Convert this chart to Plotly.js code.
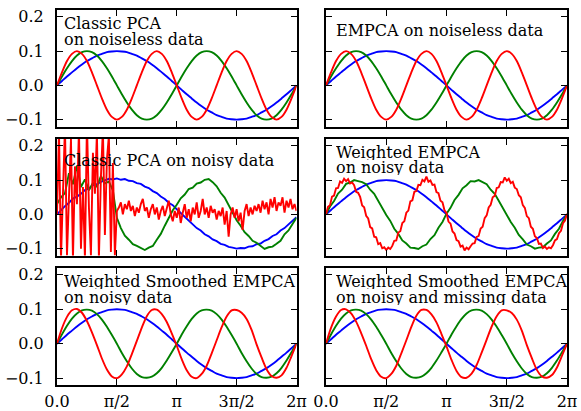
<!DOCTYPE html>
<html>
<head>
<meta charset="utf-8">
<script src="https://cdn.plot.ly/plotly-3.0.1.min.js"></script>
<style>html,body{margin:0;padding:0;background:#fff;}#chart{width:581px;height:411px;}</style>
</head>
<body>
<div id="chart"></div>
<script>
// ---------- data ----------
var X_MAX = 2 * Math.PI;
var xTickVals = [0, Math.PI / 2, Math.PI, 3 * Math.PI / 2, 2 * Math.PI];
var xTickText = ['0.0', 'π/2', 'π', '3π/2', '2π'];
var yTickVals = [-0.1, 0.0, 0.1, 0.2];
var yTickText = ['\u22120.1', '0.0', '0.1', '0.2'];

var panelTitles = [
  ['Classic PCA', 'on noiseless data'],
  ['EMPCA on noiseless data'],
  ['Classic PCA on noisy data'],
  ['Weighted EMPCA', 'on noisy data'],
  ['Weighted Smoothed EMPCA', 'on noisy data'],
  ['Weighted Smoothed EMPCA', 'on noisy and missing data']
];

// noiseless components (49 samples over 0..2pi)
var blueClean = [0, .013, .026, .038, .050, .061, .071, .079, .087, .092, .097, .099, .100, .099, .097, .092, .087, .079, .071, .061, .050, .038, .026, .013, 0,
  -.013, -.026, -.038, -.050, -.061, -.071, -.079, -.087, -.092, -.097, -.099, -.100, -.099, -.097, -.092, -.087, -.079, -.071, -.061, -.050, -.038, -.026, -.013, 0];
var greenClean = [0, .026, .050, .071, .087, .097, .100, .097, .087, .071, .050, .026, 0, -.026, -.050, -.071, -.087, -.097, -.100, -.097, -.087, -.071, -.050, -.026,
  0, .026, .050, .071, .087, .097, .100, .097, .087, .071, .050, .026, 0, -.026, -.050, -.071, -.087, -.097, -.100, -.097, -.087, -.071, -.050, -.026, 0];
var redClean = [0, .038, .071, .092, .100, .092, .071, .038, 0, -.038, -.071, -.092, -.100, -.092, -.071, -.038,
  0, .038, .071, .092, .100, .092, .071, .038, 0, -.038, -.071, -.092, -.100, -.092, -.071, -.038,
  0, .038, .071, .092, .100, .092, .071, .038, 0, -.038, -.071, -.092, -.100, -.092, -.071, -.038, 0];

// classic PCA on noisy data
var blueClassicNoisy = [0.000, 0.013, 0.024, 0.034, 0.046, 0.052, 0.060, 0.071, 0.076, 0.085, 0.088, 0.095, 0.099, 0.104, 0.102, 0.105, 0.101, 0.103, 0.098, 0.097, 0.091, 0.089, 0.081, 0.077, 0.068, 0.062, 0.052, 0.045, 0.034, 0.027, 0.015,
  0.004, -0.006, -0.018, -0.027, -0.040, -0.047, -0.058, -0.064, -0.073, -0.078, -0.086, -0.089, -0.095, -0.097, -0.100, -0.098, -0.099, -0.094, -0.093, -0.087, -0.085, -0.077, -0.072, -0.063, -0.058, -0.047, -0.040, -0.029, -0.019, -0.008];
var greenClassicNoisy = [0.030, 0.050, 0.062, 0.120, 0.088, 0.142, 0.080, 0.102, 0.070, 0.092, 0.081, 0.112, 0.090, 0.096, 0.070, -0.010,
  -0.040, -0.062, -0.074, -0.087, -0.092, -0.099, -0.104, -0.097, -0.092, -0.074, -0.057, -0.033, -0.012, 0.012, 0.028, 0.047, 0.058, 0.074, 0.078, 0.090, 0.093, 0.101, 0.103,
  0.094, 0.082, 0.063, 0.049, 0.028, 0.007, -0.017, -0.033, -0.052, -0.063, -0.077, -0.083, -0.092, -0.101, -0.096, -0.094, -0.086, -0.077, -0.058, -0.047, -0.028, -0.010];
// red: chaotic part over 0..pi/2, then the rest over pi/2..2pi
var redClassicNoisyWild = [0.00, 0.24, -0.13, 0.10, 0.26, -0.12, 0.05, 0.22, -0.13, 0.14,
  0.03, 0.25, -0.10, 0.08, -0.13, 0.27, 0.02, -0.12, 0.18, 0.06,
  0.24, -0.13, 0.11, 0.25, -0.06, 0.16, 0.23, -0.11, 0.15, -0.12, 0.01];
var redClassicNoisyRest = [0.010,
  0.020, 0.035, 0.000, 0.030, 0.015, 0.040, 0.010, 0.025, -0.005, 0.020, 0.005, 0.030, 0.045, 0.010, 0.020, -0.010, 0.015, 0.030, 0.000, 0.020,
  -0.015, 0.010, 0.025, -0.005, 0.015, 0.040, 0.000, -0.020, 0.010, -0.010, 0.020, -0.025, 0.005, 0.030, -0.010, 0.015, -0.020, 0.020, 0.000, 0.035,
  -0.010, 0.010, 0.045, 0.000, 0.020, -0.010, 0.025, 0.005, 0.015, -0.015, 0.010, -0.005, 0.020, -0.030, 0.010, -0.065, 0.000, 0.020, -0.010, 0.015,
  -0.020, 0.005, -0.045, 0.010, 0.030, -0.005, 0.020, 0.000, 0.025, 0.010, 0.030, 0.005, 0.040, 0.015, 0.035, 0.000, 0.045, 0.020, 0.050, 0.010,
  0.035, 0.025, 0.050, 0.005, 0.040, 0.020, 0.045, 0.015, 0.030, 0.010];

// weighted EMPCA on noisy data
var greenWeightedNoisy = [0, .023, .039, .061, .072, .089, .093, .100, .097, .094, .088, .072, .060, .039, .022, -.002,
  -.019, -.042, -.057, -.076, -.085, -.097, -.098, -.101, -.093, -.088, -.072, -.061, -.039, -.022,
  .002, .019, .042, .057, .076, .085, .097, .096, .100, .093, .088, .072, .060, .040, .019,
  .001, -.022, -.039, -.060, -.073, -.088, -.093, -.100, -.097, -.096, -.085, -.076, -.057, -.042, -.019, 0];
var redWeightedNoisy = [0.000, .022, .027, .052, .055, .076, .077, .096, .092, .104, .097, .103, .090, .093, .085, .066, .063, .051, .026, .021,
  -.004, -.012, -.037, -.041, -.065, -.067, -.087, -.084, -.099, -.096, -.104, -.097, -.101, -.092, -.077, -.076, -.053, -.049, -.025, -.020,
  .005, .011, .038, .041, .066, .068, .086, .085, .101, .096, .110, .095, .099, .086, .087, .065, .062, .040, .035, .012,
  .004, -.021, -.027, -.050, -.056, -.075, -.078, -.094, -.091, -.105, -.097, -.102, -.093, -.085, -.084, -.066, -.063, -.041, -.036, -.011,
  -.003, .020, .028, .050, .054, .077, .079, .094, .093, .108, .098, .104, .091, .095, .078, .074, .056, .050, .027, .019,
  -.005, -.011, -.036, -.042, -.064, -.069, -.086, -.085, -.098, -.094, -.101, -.096, -.099, -.090, -.076, -.072, -.055, -.048, -.026, -.018, .002];

// weighted smoothed EMPCA
var blueSmoothed = [0, .013, .026, .038, .050, .061, .071, .079, .087, .092, .097, .099, .100, .099, .097, .092, .087, .079, .071, .061, .050, .038, .026, .013, 0,
  -.013, -.026, -.038, -.050, -.061, -.071, -.079, -.087, -.092, -.097, -.099, -.100, -.099, -.097, -.092, -.087, -.079, -.071, -.061, -.050, -.038, -.026, -.013, 0];
var greenSmoothed = [0, .027, .052, .073, .088, .097, .099, .096, .086, .070, .049, .025, 0, -.027, -.051, -.072, -.088, -.097, -.099, -.096, -.086, -.070, -.049, -.025,
  0, .027, .051, .072, .088, .097, .099, .096, .086, .070, .049, .025, 0, -.027, -.051, -.072, -.088, -.097, -.099, -.096, -.086, -.070, -.049, -.025, 0];
var redSmoothed = [0, .045, .078, .097, .101, .090, .066, .033, -.004, -.043, -.075, -.095, -.100, -.089, -.066, -.030,
  .008, .047, .080, .098, .099, .086, .063, .030, -.006, -.045, -.077, -.096, -.100, -.088, -.064, -.028,
  .010, .048, .079, .097, .098, .090, .072, .040, -.002, -.040, -.074, -.094, -.099, -.092, -.070, -.036, 0];
var redSmoothedMissing = [0, .046, .079, .098, .100, .088, .064, .031, -.006, -.045, -.077, -.096, -.100, -.088, -.064, -.028,
  .010, .049, .081, .098, .098, .085, .062, .028, -.008, -.047, -.079, -.097, -.099, -.087, -.062, -.026,
  .012, .050, .080, .097, .097, .089, .070, .038, -.004, -.042, -.076, -.095, -.099, -.091, -.069, -.035, 0];

// ---------- figure ----------
var BLUE = '#0000ff', GREEN = '#008000', RED = '#ff0000';
// each series: [values, colour, start (in units of pi/2), span (in units of pi/2), line shape]
var panels = [
  [[blueClean, BLUE, 0, 4, 'spline'], [greenClean, GREEN, 0, 4, 'spline'], [redClean, RED, 0, 4, 'spline']],
  [[blueClean, BLUE, 0, 4, 'spline'], [greenClean, GREEN, 0, 4, 'spline'], [redClean, RED, 0, 4, 'spline']],
  [[blueClassicNoisy, BLUE, 0, 4, 'linear'], [greenClassicNoisy, GREEN, 0, 4, 'linear'],
   [redClassicNoisyWild, RED, 0, 1, 'linear'], [redClassicNoisyRest, RED, 1, 3, 'linear']],
  [[blueClean, BLUE, 0, 4, 'spline'], [greenWeightedNoisy, GREEN, 0, 4, 'linear'], [redWeightedNoisy, RED, 0, 4, 'linear']],
  [[blueSmoothed, BLUE, 0, 4, 'spline'], [greenSmoothed, GREEN, 0, 4, 'spline'], [redSmoothed, RED, 0, 4, 'spline']],
  [[blueSmoothed, BLUE, 0, 4, 'spline'], [greenSmoothed, GREEN, 0, 4, 'spline'], [redSmoothedMissing, RED, 0, 4, 'spline']]
];

var W = 581, H = 411;
var colPx = [[57, 296.5], [326, 567]];
var rowPx = [[10, 126.5], [139, 255.5], [268, 385]];
var FONT = 'DejaVu Serif';
var QUARTER = Math.PI / 2;

var traces = [];
var layout = {
  width: W, height: H,
  margin: {l: 0, r: 0, t: 0, b: 0},
  paper_bgcolor: '#ffffff', plot_bgcolor: '#ffffff',
  showlegend: false,
  font: {family: FONT, size: 16, color: '#000'},
  annotations: []
};

panels.forEach(function (series, p) {
  var row = Math.floor(p / 2), col = p % 2;
  var n = p + 1;
  var xa = n === 1 ? 'x' : 'x' + n, ya = n === 1 ? 'y' : 'y' + n;
  series.forEach(function (s) {
    var vals = s[0];
    traces.push({
      type: 'scatter', mode: 'lines',
      x0: s[2] * QUARTER, dx: s[3] * QUARTER / (vals.length - 1), y: vals,
      xaxis: xa, yaxis: ya,
      line: {color: s[1], width: 1.9, shape: s[4], smoothing: 0.8},
      hoverinfo: 'skip'
    });
  });
  var common = {
    showline: true, linecolor: '#000', linewidth: 2, mirror: 'ticks',
    ticks: 'inside', ticklen: 6, tickwidth: 1, tickcolor: '#000',
    showgrid: false, zeroline: false, fixedrange: true,
    tickfont: {family: FONT, size: 16, color: '#000'}
  };
  var xkey = n === 1 ? 'xaxis' : 'xaxis' + n, ykey = n === 1 ? 'yaxis' : 'yaxis' + n;
  layout[xkey] = Object.assign({}, common, {
    domain: [colPx[col][0] / W, colPx[col][1] / W],
    range: [0, X_MAX], anchor: ya,
    tickmode: 'array', tickvals: xTickVals, ticktext: xTickText,
    showticklabels: row === 2, ticklabelstandoff: 1
  });
  layout[ykey] = Object.assign({}, common, {
    domain: [1 - rowPx[row][1] / H, 1 - rowPx[row][0] / H],
    range: [-0.12, 0.22], anchor: xa,
    tickmode: 'array', tickvals: yTickVals, ticktext: yTickText,
    showticklabels: col === 0, ticklabelstandoff: 8
  });
});

// panel captions, one annotation per line
var capLeft = [63, 335, 63, 335, 63, 335];
var capCenters = [[23.5, 39.5], [30.5], [160], [152.5, 168], [281.5, 297], [281.5, 297]];
panelTitles.forEach(function (lines, p) {
  lines.forEach(function (t, i) {
    layout.annotations.push({
      text: t, xref: 'paper', yref: 'paper',
      x: capLeft[p] / W, y: 1 - capCenters[p][i] / H,
      xanchor: 'left', yanchor: 'middle', showarrow: false, borderpad: 0,
      height: 15,
      font: {family: FONT, size: 16, color: '#000'}
    });
  });
});

Plotly.newPlot('chart', traces, layout, {staticPlot: true, displayModeBar: false});
</script>
</body>
</html>
